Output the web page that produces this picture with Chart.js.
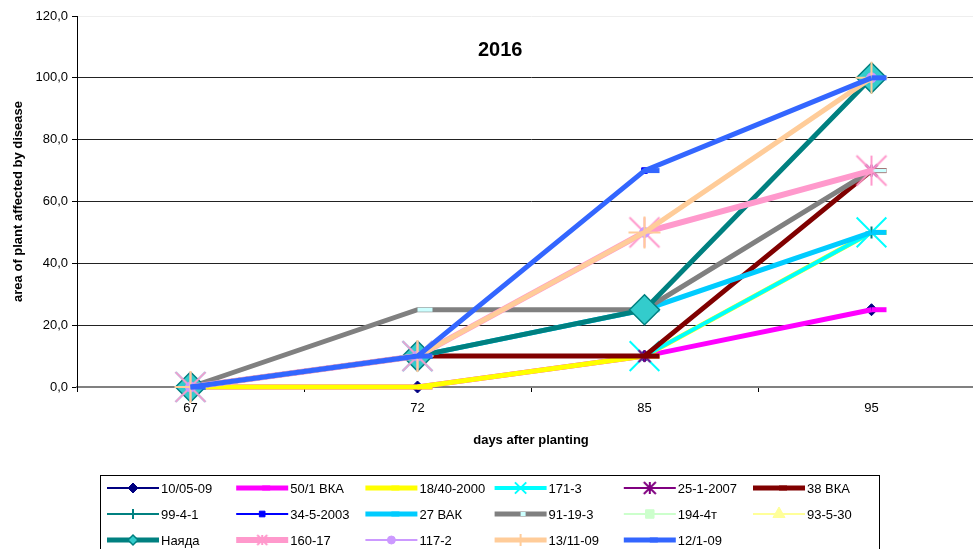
<!DOCTYPE html>
<html>
<head>
<meta charset="utf-8">
<title>2016</title>
<script src="https://cdn.jsdelivr.net/npm/chart.js@4/dist/chart.umd.min.js"></script>
<style>
  html, body { margin: 0; padding: 0; background: #fff; overflow: hidden; }
  #wrap { width: 973px; height: 549px; overflow: hidden; position: relative; }
  #chart { display: block; width: 990px; height: 549px; }
</style>
</head>
<body>
<div id="wrap"><canvas id="chart" width="990" height="549" style="width:990px;height:549px"></canvas></div>
<script>
// Days after planting (category axis)
const days = ['67', '72', '85', '95'];

// Variety names, in legend order
const seriesNames = ['10/05-09', '50/1 ВКА', '18/40-2000', '171-3', '25-1-2007', '38 ВКА',
  '99-4-1', '34-5-2003', '27 ВАК', '91-19-3', '194-4т', '93-5-30',
  'Наяда', '160-17', '117-2', '13/11-09', '12/1-09'];

// Area of plant affected by disease, % (one array per variety)
const s10_05_09   = [0, 0, 10, 25];
const s50_1_VKA   = [0, 0, 10, 25];
const s18_40_2000 = [0, 0, 10, 50];
const s171_3      = [0, 10, 10, 50];
const s25_1_2007  = [0, 10, 10, 70];
const s38_VKA     = [0, 10, 10, 70];
const s99_4_1     = [0, 10, 25, 50];
const s34_5_2003  = [0, 10, 70, 100];
const s27_VAK     = [0, 10, 25, 50];
const s91_19_3    = [0, 25, 25, 70];
const s194_4t     = [0, 10, 25, 100];
const s93_5_30    = [0, 10, 25, 100];
const sNayada     = [0, 10, 25, 100];
const s160_17     = [0, 10, 50, 70];
const s117_2      = [0, 10, 50, 100];
const s13_11_09   = [0, 10, 50, 100];
const s12_1_09    = [0, 10, 70, 100];

const seriesValues = [s10_05_09, s50_1_VKA, s18_40_2000, s171_3, s25_1_2007, s38_VKA,
  s99_4_1, s34_5_2003, s27_VAK, s91_19_3, s194_4t, s93_5_30,
  sNayada, s160_17, s117_2, s13_11_09, s12_1_09];

// Value axis ticks
const yMin = 0, yMax = 120, yStep = 20;

const FONT = "'Liberation Sans', Arial, Helvetica, sans-serif";

// Asterisk marker (X plus vertical bar) as a small canvas
function asterisk(s, color, lw) {
  const c = document.createElement('canvas');
  const size = Math.ceil(2 * s + lw + 2);
  c.width = size; c.height = size;
  const g = c.getContext('2d');
  const m = size / 2;
  g.strokeStyle = color; g.lineWidth = lw;
  g.beginPath();
  g.moveTo(m - s, m - s); g.lineTo(m + s, m + s);
  g.moveTo(m + s, m - s); g.lineTo(m - s, m + s);
  g.moveTo(m, m - s); g.lineTo(m, m + s);
  g.stroke();
  return c;
}

// Line and marker style for each variety
const styles = [
  { color: '#000080', width: 2, point: 'rectRot', r: 6, fill: '#000080', pb: 1, lr: 5 },
  { color: '#FF00FF', width: 5, point: 'dash', r: 15, fill: '#FF00FF', pb: 5, lr: 8 },
  { color: '#FFFF00', width: 5, point: 'dash', r: 15, fill: '#FFFF00', pb: 5, lr: 8 },
  { color: '#00FFFF', width: 4, point: 'crossRot', r: 21, fill: '#00FFFF', pb: 2, lr: 8 },
  { color: '#800080', width: 2, point: asterisk(6, '#800080', 2), lpoint: asterisk(6, '#800080', 2), r: 6, fill: '#800080', pb: 2, lr: 6 },
  { color: '#800000', width: 5, point: 'dash', r: 15, fill: '#800000', pb: 5, lr: 8 },
  { color: '#008080', width: 2, point: 'cross', r: 6, fill: '#008080', pb: 2, lr: 5 },
  { color: '#0000FF', width: 2, point: 'rect', r: 4, fill: '#0000FF', pb: 1, lr: 4 },
  { color: '#00CCFF', width: 5, point: 'dash', r: 15, fill: '#00CCFF', pb: 5, lr: 8 },
  { color: '#808080', width: 5, point: 'dash', r: 15, fill: '#CCFFFF', pcolor: '#CCFFFF', pb: 4, lr: 5 },
  { color: '#CCFFCC', width: 2, point: 'rect', r: 6, fill: '#CCFFCC', pb: 1, lr: 6 },
  { color: '#FFFF99', width: 2, point: 'triangle', r: 7, fill: '#FFFF99', pb: 1, lr: 7 },
  { color: '#008080', width: 5, point: 'rectRot', r: 15, fill: '#33CCCC', pb: 1.5, lr: 5 },
  { color: '#FF99CC', width: 6, point: asterisk(15, '#FF99CC', 2), lpoint: asterisk(5, '#FF99CC', 2), r: 15, fill: '#FF99CC', pb: 2, lr: 6 },
  { color: '#CC99FF', width: 2, point: 'circle', r: 5, fill: '#CC99FF', pb: 1, lr: 4 },
  { color: '#FFCC99', width: 5, point: 'cross', r: 16, fill: '#FFCC99', pb: 2, lr: 6 },
  { color: '#3366FF', width: 5, point: 'dash', r: 15, fill: '#3366FF', pb: 5, lr: 8 }
];

const N = seriesNames.length;
const datasets = seriesNames.map((name, i) => {
  const st = styles[i];
  return {
    label: name,
    data: seriesValues[i],
    borderColor: st.color,
    borderWidth: st.width,
    backgroundColor: st.fill,
    pointStyle: st.point,
    pointRadius: st.r,
    pointBackgroundColor: st.fill,
    pointBorderColor: st.pcolor || st.color,
    pointBorderWidth: st.pb,
    tension: 0,
    fill: false,
    clip: false,
    order: N - i
  };
});

// Chart title drawn inside the plot area
const titlePlugin = {
  id: 'plotTitle',
  afterDraw(chart) {
    const { ctx, chartArea } = chart;
    ctx.save();
    ctx.font = 'bold 20px ' + FONT;
    ctx.fillStyle = '#000';
    ctx.textAlign = 'center';
    ctx.textBaseline = 'middle';
    ctx.fillText('2016', chartArea.left + chartArea.width * 0.466, chartArea.top + 34);
    ctx.restore();
  }
};

// Boxed legend laid out in six columns
const gridLegend = {
  id: 'gridLegend',
  afterDraw(chart) {
    const { ctx } = chart;
    const boxX = 100.5, boxY = 475.5, boxW = 779, boxH = 120;
    const col0 = 107, colStep = 129.2, row0 = 488, rowStep = 26, sample = 52;
    ctx.save();
    ctx.strokeStyle = '#000';
    ctx.lineWidth = 1;
    ctx.strokeRect(boxX, boxY, boxW, boxH);
    chart.data.datasets.forEach((ds, i) => {
      const st = styles[i];
      const x = col0 + (i % 6) * colStep;
      const y = Math.round(row0 + Math.floor(i / 6) * rowStep);
      ctx.save();
      ctx.strokeStyle = ds.borderColor;
      ctx.lineWidth = ds.borderWidth;
      ctx.beginPath();
      ctx.moveTo(x, y);
      ctx.lineTo(x + sample, y);
      ctx.stroke();
      const mx = x + sample / 2;
      const pstyle = st.lpoint || st.point;
      if (typeof pstyle === 'object') {
        ctx.drawImage(pstyle, mx - pstyle.width / 2, y - pstyle.height / 2);
      } else {
        ctx.fillStyle = ds.pointBackgroundColor;
        ctx.strokeStyle = ds.pointBorderColor;
        ctx.lineWidth = ds.pointBorderWidth;
        Chart.helpers.drawPoint(ctx, { pointStyle: pstyle, radius: st.lr, borderWidth: ds.pointBorderWidth, rotation: 0 }, mx, y);
      }
      ctx.restore();
      ctx.font = '13px ' + FONT;
      ctx.fillStyle = '#000';
      ctx.textAlign = 'left';
      ctx.textBaseline = 'middle';
      ctx.fillText(ds.label, x + sample + 2, y + 1);
    });
    ctx.restore();
  }
};

Chart.defaults.font.family = FONT;
Chart.defaults.font.size = 13;
Chart.defaults.color = '#000';

new Chart(document.getElementById('chart'), {
  type: 'line',
  data: { labels: days, datasets },
  options: {
    responsive: false,
    animation: false,
    events: [],
    layout: { autoPadding: false, padding: { top: 16, right: 5, bottom: 97, left: 0 } },
    plugins: {
      legend: { display: false },
      tooltip: { enabled: false },
      title: { display: false }
    },
    scales: {
      x: {
        type: 'category',
        offset: true,
        afterFit(scale) { scale.height = 65; },
        grid: { offset: true, drawOnChartArea: false, drawTicks: true, tickLength: 5, color: '#000' },
        border: { display: true, color: '#808080', width: 2 },
        ticks: { padding: 9, color: '#000', font: { size: 13 }, maxRotation: 0 },
        title: { display: true, text: 'days after planting', color: '#000', font: { size: 13, weight: 'bold' }, padding: { top: 0, bottom: 4 } }
      },
      y: {
        min: yMin,
        max: yMax,
        afterFit(scale) { scale.width = 77; },
        ticks: {
          stepSize: yStep,
          padding: 4,
          color: '#000',
          font: { size: 13 },
          callback: v => v.toFixed(1).replace('.', ',')
        },
        grid: {
          tickLength: 5,
          tickColor: '#000',
          color: c => (c.tick.value === yMax ? '#eeeeee' : (c.tick.value === yMin ? '#808080' : '#222222')),
          lineWidth: 1
        },
        border: { display: true, color: '#000', width: 1 },
        title: { display: true, text: 'area of plant affected by disease', color: '#000', font: { size: 13, weight: 'bold' }, padding: { top: 11, bottom: 0 } }
      }
    }
  },
  plugins: [titlePlugin, gridLegend]
});
</script>
</body>
</html>
